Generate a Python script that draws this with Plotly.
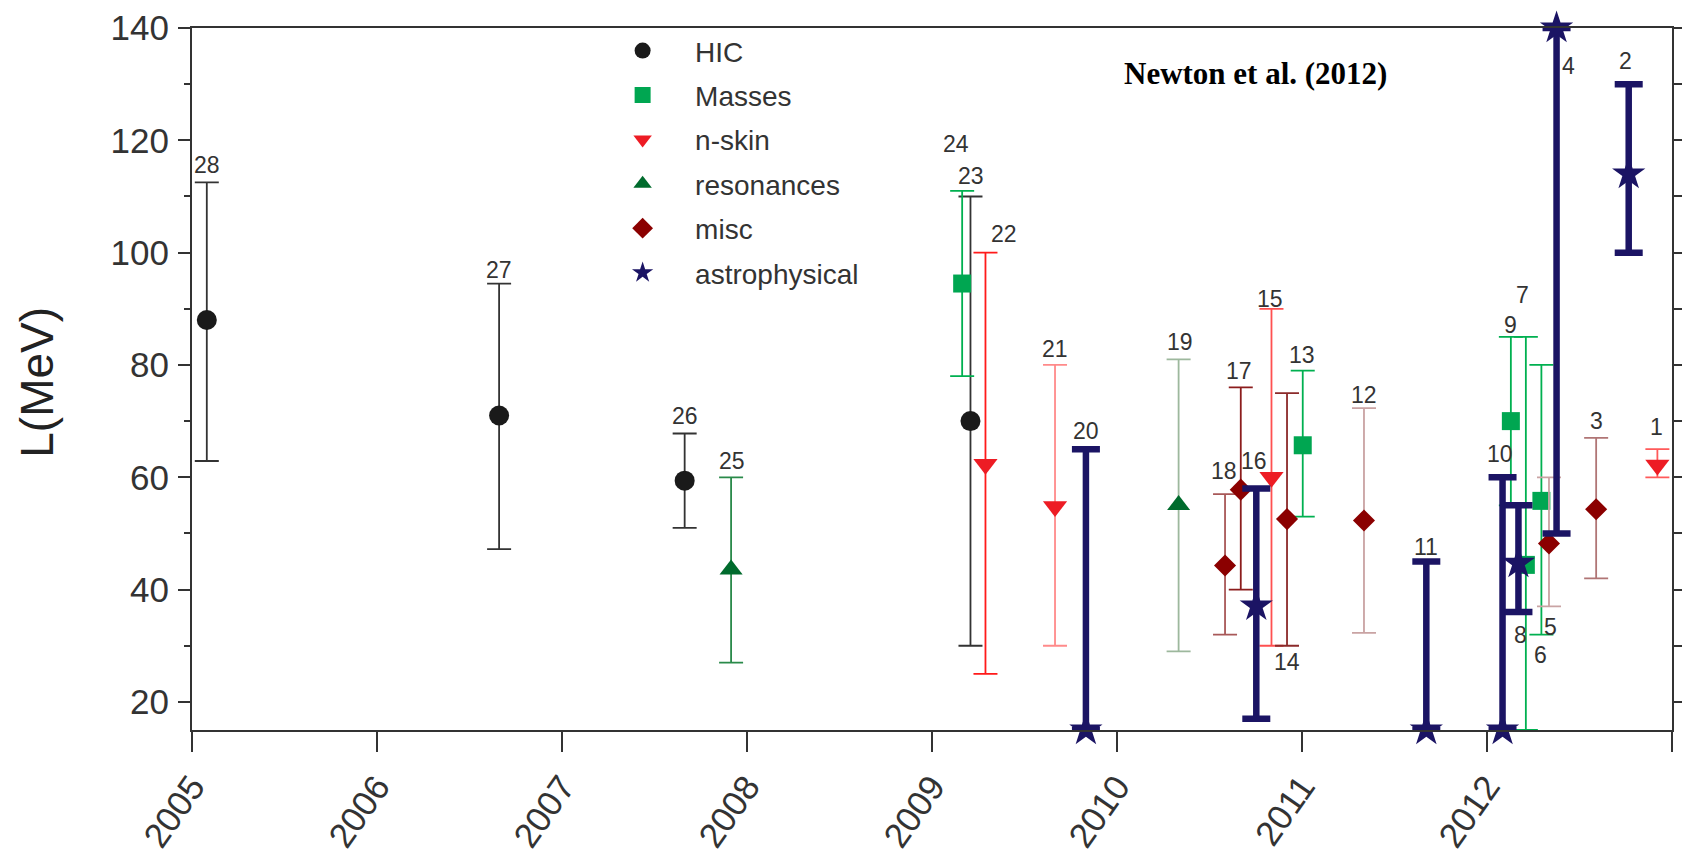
import plotly.graph_objects as go

# ---------------- data ----------------
categories = ["HIC", "Masses", "n-skin", "resonances", "misc", "astrophysical"]

hic_ids = [28, 27, 26, 23]
hic_x = [2005.08, 2006.66, 2007.663, 2009.208]
hic_L = [88, 71, 59.4, 70]
hic_hi = [112.5, 94.5, 67.8, 110]
hic_lo = [62.9, 47.2, 51, 30]

mass_ids = [24, 13, 9, 7, 6]
mass_x = [2009.163, 2011.004, 2012.129, 2012.210, 2012.294]
mass_L = [94.5, 65.7, 70, 44.4, 55.8]
mass_hi = [111, 79, 85, 85, 80]
mass_lo = [78, 53, 55, 15, 32]

skin_ids = [22, 21, 15, 1]
skin_x = [2009.289, 2009.665, 2010.835, 2012.921]
skin_L = [62.3, 54.8, 60, 62.2]
skin_hi = [100, 80, 90, 65]
skin_lo = [25, 30, 30, 60]

res_ids = [25, 19]
res_x = [2007.914, 2010.333]
res_L = [43.6, 55.05]
res_hi = [60, 81]
res_lo = [27, 29]

misc_ids = [18, 17, 14, 12, 5, 3]
misc_x = [2010.584, 2010.669, 2010.919, 2011.335, 2012.335, 2012.590]
misc_L = [44.3, 57.8, 52.55, 52.3, 48.2, 54.3]
misc_hi = [57, 76, 75, 72.3, 60, 67]
misc_lo = [32, 40, 30, 32.3, 37, 42]

astro_ids = [20, 16, 11, 10, 8, 4, 2]
astro_x = [2009.832, 2010.753, 2011.672, 2012.084, 2012.170, 2012.376, 2012.766]
astro_L = [15, 37.1, 15, 15, 44.7, 140, 114]
astro_hi = [65, 58, 45, 60, 55, 140, 130]
astro_lo = [15, 17, 15, 15, 36, 50, 100]

year_ticks = [2005, 2006, 2007, 2008, 2009, 2010, 2011, 2012, 2013]
year_labels = ["2005", "2006", "2007", "2008", "2009", "2010", "2011", "2012", ""]
y_ticks = [20, 40, 60, 80, 100, 120, 140]

# ---------------- styles ----------------
FONT = "Liberation Sans, Arial, sans-serif"
NAVY = "#1b1464"

cat_style = {
    "HIC": dict(symbol="circle", color="#1a1a1a", size=20),
    "Masses": dict(symbol="square", color="#00a651", size=18),
    "n-skin": dict(symbol="triangle-down", color="#ed1c24", size=21),
    "resonances": dict(symbol="triangle-up", color="#006b2d", size=20),
    "misc": dict(symbol="diamond", color="#8b0000", size=17),
    "astrophysical": dict(symbol="star", color=NAVY, size=25),
}

err_color = {
    28: "#333333", 27: "#333333", 26: "#333333", 23: "#333333",
    24: "#00b050", 13: "#00b050", 9: "#00b050", 7: "#00b050", 6: "#00b050",
    22: "#ff1a1a", 21: "#ff8a8a", 15: "#ff5050", 1: "#ff5a5a",
    25: "#2a8a4a", 19: "#9db89d",
    18: "#a85858", 17: "#8b1c1c", 14: "#8b2a2a", 12: "#c9a3a3", 5: "#c9a3a3", 3: "#b07575",
}

# label placement: (reference end, dx px, dy px up)
label_pos = {
    28: ("hi", 0, 17), 27: ("hi", 0, 14), 26: ("hi", 0, 17), 25: ("hi", 1, 16),
    24: ("hi", -6, 47), 23: ("hi", 1, 20), 22: ("hi", 19, 19), 21: ("hi", 0, 16),
    20: ("hi", 0, 18), 19: ("hi", 1, 17), 18: ("hi", -1, 23), 17: ("hi", -2, 16),
    16: ("hi", -2, 28), 15: ("hi", -1, 10), 14: ("lo", 0, -16), 13: ("hi", -1, 16),
    12: ("hi", 0, 13), 11: ("hi", 0, 15), 10: ("hi", -3, 23), 9: ("hi", 0, 12),
    8: ("lo", 2, -23), 7: ("hi", -3, 42), 6: ("lo", -1, -20), 5: ("lo", 2, -21),
    4: ("hi", 12, -38), 3: ("hi", 0, 17), 2: ("hi", -3, 23), 1: ("hi", -1, 22),
}

groups = [
    ("HIC", hic_ids, hic_x, hic_L, hic_hi, hic_lo),
    ("Masses", mass_ids, mass_x, mass_L, mass_hi, mass_lo),
    ("n-skin", skin_ids, skin_x, skin_L, skin_hi, skin_lo),
    ("resonances", res_ids, res_x, res_L, res_hi, res_lo),
    ("misc", misc_ids, misc_x, misc_L, misc_hi, misc_lo),
    ("astrophysical", astro_ids, astro_x, astro_L, astro_hi, astro_lo),
]

fig = go.Figure()
annotations = []

for name, ids, xs, Ls, his, los in groups:
    st = cat_style[name]
    astro = name == "astrophysical"
    for i, (pid, x, L, hi, lo) in enumerate(zip(ids, xs, Ls, his, los)):
        fig.add_trace(go.Scatter(
            x=[x], y=[L], mode="markers", name=name,
            legendgroup=name, showlegend=(i == 0),
            cliponaxis=False,
            marker=dict(symbol=st["symbol"], color=st["color"], size=st["size"],
                        line=dict(width=0)),
            error_y=dict(type="data", symmetric=False,
                         array=[hi - L], arrayminus=[L - lo],
                         color=NAVY if astro else err_color[pid],
                         thickness=6.5 if astro else 1.8,
                         width=14 if astro else 12),
            hoverinfo="skip",
        ))
        ref, dx, dy = label_pos[pid]
        annotations.append(dict(
            x=x, y=hi if ref == "hi" else lo, xref="x", yref="y",
            text=str(pid), showarrow=False, xanchor="center", yanchor="middle",
            xshift=dx, yshift=dy,
            font=dict(family=FONT, size=23, color="#333333"),
        ))

# invisible trace to carry the right-hand axis
fig.add_trace(go.Scatter(x=[year_ticks[0]], y=[y_ticks[0]], yaxis="y2", mode="markers",
                         marker=dict(opacity=0), showlegend=False, hoverinfo="skip"))

annotations.append(dict(
    x=-0.1044, y=0.4954, xref="paper", yref="paper", text="L(MeV)", textangle=-90,
    showarrow=False, xanchor="center", yanchor="middle",
    font=dict(family=FONT, size=46, color="#222222"),
))
annotations.append(dict(
    x=0.7187, y=0.9355, xref="paper", yref="paper", text="<b>Newton et al. (2012)</b>",
    showarrow=False, xanchor="center", yanchor="middle",
    font=dict(family="Liberation Serif, Times New Roman, serif", size=31, color="#000000"),
))

axis_col = "#333333"
fig.update_layout(
    width=1688, height=862,
    margin=dict(l=192, r=8, t=24, b=120),
    paper_bgcolor="white", plot_bgcolor="white",
    showlegend=True,
    legend=dict(x=0.269, y=1.003, xanchor="left", yanchor="top",
                bgcolor="rgba(0,0,0,0)", borderwidth=0,
                itemwidth=95, tracegroupgap=5,
                font=dict(family=FONT, size=28, color="#333333")),
    xaxis=dict(range=[2005, 2013], tickmode="array", tickvals=year_ticks, ticktext=year_labels,
               tickangle=-55, ticks="outside", ticklen=20, tickwidth=2, tickcolor=axis_col,
               showline=True, linewidth=2, linecolor=axis_col, mirror=True,
               showgrid=False, zeroline=False,
               tickfont=dict(family=FONT, size=35, color="#333333")),
    yaxis=dict(range=[15, 140], tickmode="array", tickvals=y_ticks,
               ticks="outside", ticklen=12, tickwidth=2, tickcolor=axis_col,
               minor=dict(dtick=10, tick0=0, ticks="outside", ticklen=6, tickwidth=2,
                          tickcolor=axis_col, showgrid=False),
               showline=True, linewidth=2, linecolor=axis_col,
               showgrid=False, zeroline=False, ticklabelstandoff=2,
               tickfont=dict(family=FONT, size=35, color="#333333")),
    yaxis2=dict(range=[15, 140], overlaying="y", side="right", anchor="x",
                tick0=0, dtick=10, ticks="outside", ticklen=8, tickwidth=2, tickcolor=axis_col,
                showticklabels=False, showline=True, linewidth=2, linecolor=axis_col,
                showgrid=False, zeroline=False),
    shapes=[dict(type="line", xref="paper", yref="paper", x0=1, x1=1.006, y0=1, y1=1,
                 line=dict(color=axis_col, width=2))],
    annotations=annotations,
)

fig.write_html("out.html")
